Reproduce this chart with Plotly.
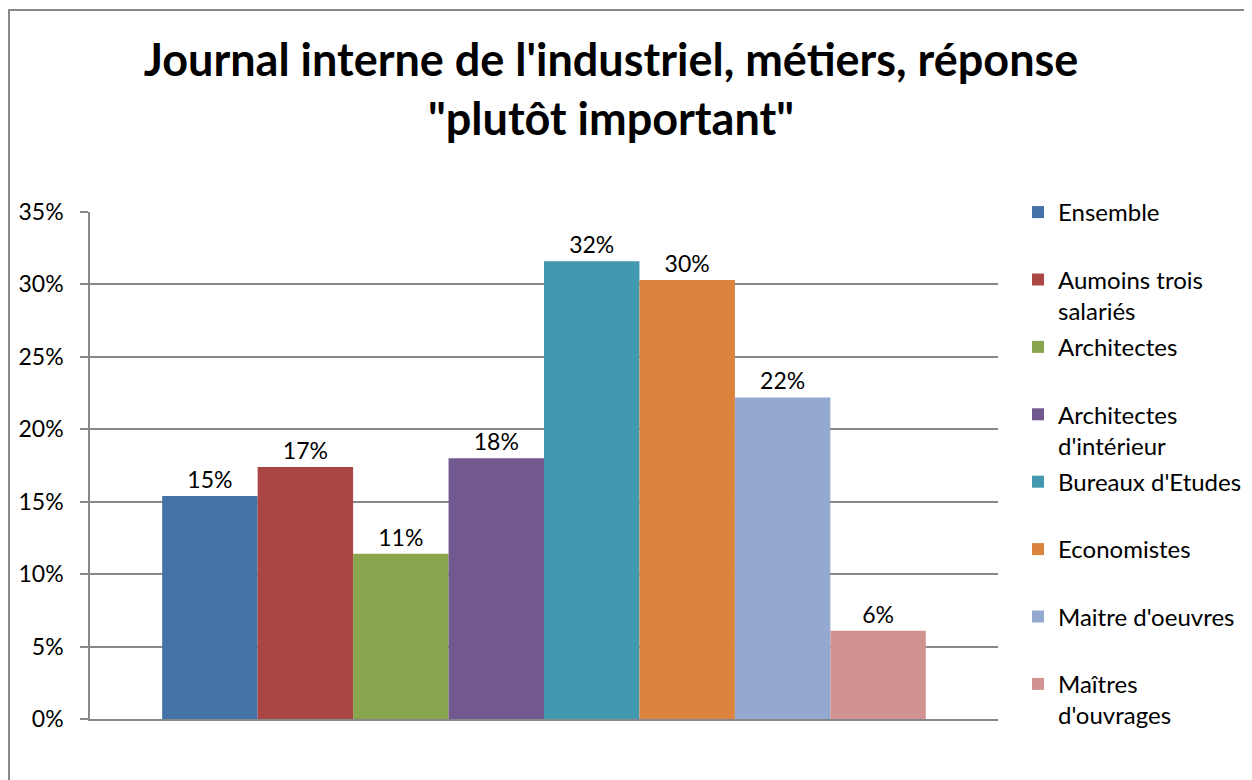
import plotly.graph_objects as go

categories = ["plutôt important"]
series_names = [
    "Ensemble<br>\u00a0",
    "Aumoins trois<br>salariés",
    "Architectes<br>\u00a0",
    "Architectes<br>d'intérieur",
    "Bureaux d'Etudes<br>\u00a0",
    "Economistes<br>\u00a0",
    "Maitre d'oeuvres<br>\u00a0",
    "Maîtres<br>d'ouvrages",
]
series_values = [0.154, 0.174, 0.114, 0.180, 0.316, 0.303, 0.222, 0.061]
series_colors = ["#4572A7", "#AA4643", "#89A54E", "#71588F",
                 "#4198AF", "#DB843D", "#93A9CF", "#D19392"]
y_ticks = [0, 0.05, 0.10, 0.15, 0.20, 0.25, 0.30, 0.35]

FONT = "Lato"
GRID = "#888888"
W, H = 1244, 772
L, R, T, B = 82, 254, 204, 61
PW, PH = W - L - R, H - T - B

fig = go.Figure()
for i, (name, val, col) in enumerate(zip(series_names, series_values, series_colors)):
    fig.add_trace(go.Bar(
        x=categories, y=[val], name=name,
        marker=dict(color=col, line=dict(width=0)),
        texttemplate="%{y:.0%}", textposition="outside",
        textfont=dict(family=FONT, size=23, color="#000000"),
        cliponaxis=False, legendgroup=f"g{i}",
    ))

fig.update_layout(
    width=W, height=H,
    margin=dict(l=L, r=R, t=T, b=B, autoexpand=False),
    paper_bgcolor="white", plot_bgcolor="white",
    barmode="group", bargap=0.159, bargroupgap=0,
    font=dict(family=FONT, color="#000000"),
    title=dict(
        text="<b>Journal interne de l'industriel, métiers, réponse<br>\"plutôt important\"</b>",
        font=dict(family=FONT, size=45, color="#000000"),
        x=603 / W, xref="container", xanchor="center",
        y=1 - 68 / H, yref="container", yanchor="top",
    ),
    legend=dict(
        x=(1010 - L) / PW, xanchor="left", y=1 + (T - 182) / PH, yanchor="top",
        font=dict(family=FONT, size=24, color="#000000"),
        traceorder="grouped", tracegroupgap=2, valign="top",
        bgcolor="rgba(0,0,0,0)", maxheight=700,
    ),
    xaxis=dict(
        showticklabels=False, showgrid=False, showline=True,
        linecolor=GRID, linewidth=1.5, ticks="",
    ),
    yaxis=dict(
        range=[0, 0.35], tickvals=y_ticks, tickformat=".0%",
        showgrid=True, gridcolor=GRID, gridwidth=1.5,
        showline=True, linecolor=GRID, linewidth=1.5,
        ticks="outside", ticklen=8, tickcolor=GRID, tickwidth=1.5,
        ticklabelstandoff=12,
        tickfont=dict(family=FONT, size=23, color="#000000"),
        zeroline=False,
    ),
    shapes=[dict(
        type="rect", xref="paper", yref="paper",
        x0=(1 - L) / PW, x1=(W + 20 - L) / PW,
        y0=-0.3, y1=1 + (T - 2) / PH,
        line=dict(color=GRID, width=2), fillcolor="rgba(0,0,0,0)", layer="below",
    )],
)

fig.write_html("out.html")
